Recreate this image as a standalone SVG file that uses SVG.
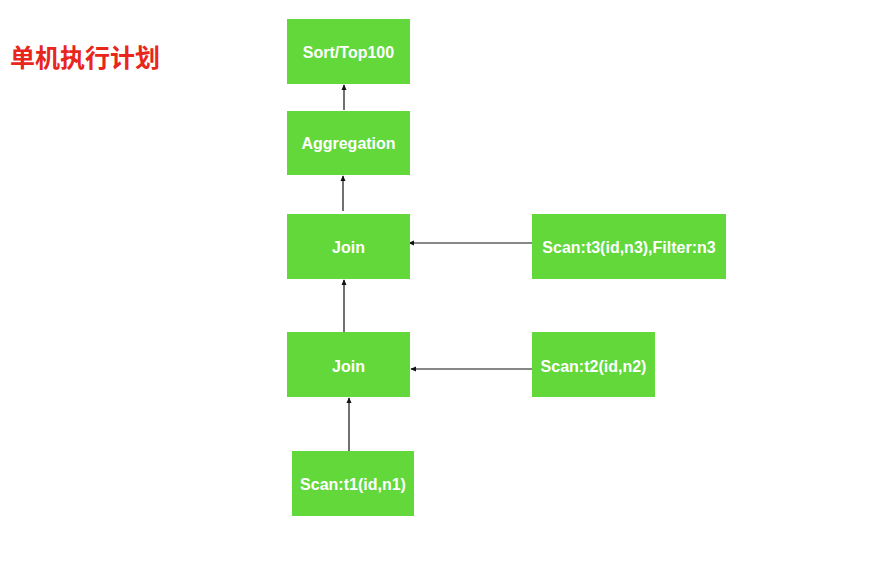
<svg xmlns="http://www.w3.org/2000/svg" width="881" height="566" viewBox="0 0 881 566">
<style>
.box{fill:#62d83a;}
.lbl{font-family:"Liberation Sans",Arial,sans-serif;font-size:16px;font-weight:bold;fill:#ffffff;text-anchor:middle;dominant-baseline:central;}
.title{font-family:"Liberation Sans","Noto Sans CJK SC",sans-serif;font-size:25px;font-weight:bold;fill:#e8261c;}
.edge{stroke:#111;stroke-width:1.2;fill:none;marker-end:url(#ah);}
</style>
<defs>
<marker id="ah" viewBox="0 0 8 8" refX="7" refY="4" markerWidth="6" markerHeight="6" markerUnits="userSpaceOnUse" orient="auto">
<path d="M0,0.5 L8,4 L0,7.5 z" fill="#111"/>
</marker>
</defs>
<rect width="881" height="566" fill="#ffffff"/>
<text class="title" x="10" y="67">单机执行计划</text>
<g id="connectors">
<line class="edge" x1="344" y1="110" x2="344" y2="85"/>
<line class="edge" x1="343" y1="211" x2="343" y2="176"/>
<line class="edge" x1="344" y1="332" x2="344" y2="280"/>
<line class="edge" x1="532" y1="243" x2="409" y2="243"/>
<line class="edge" x1="532" y1="369" x2="411" y2="369"/>
<line class="edge" x1="349" y1="451" x2="349" y2="398"/>
</g>
<g id="sort"><rect class="box" x="287" y="19" width="123" height="65"/><text class="lbl" x="348.5" y="52">Sort/Top100</text></g>
<g id="agg"><rect class="box" x="287" y="111" width="123" height="64"/><text class="lbl" x="348.5" y="143">Aggregation</text></g>
<g id="join1"><rect class="box" x="287" y="214" width="123" height="65"/><text class="lbl" x="348.5" y="247">Join</text></g>
<g id="scan3"><rect class="box" x="532" y="214" width="194" height="65"/><text class="lbl" x="629" y="247">Scan:t3(id,n3),Filter:n3</text></g>
<g id="join2"><rect class="box" x="287" y="332" width="123" height="65"/><text class="lbl" x="348.5" y="366">Join</text></g>
<g id="scan2"><rect class="box" x="532" y="332" width="123" height="65"/><text class="lbl" x="593.5" y="366">Scan:t2(id,n2)</text></g>
<g id="scan1"><rect class="box" x="292" y="451" width="122" height="65"/><text class="lbl" x="353" y="484">Scan:t1(id,n1)</text></g>
</svg>
